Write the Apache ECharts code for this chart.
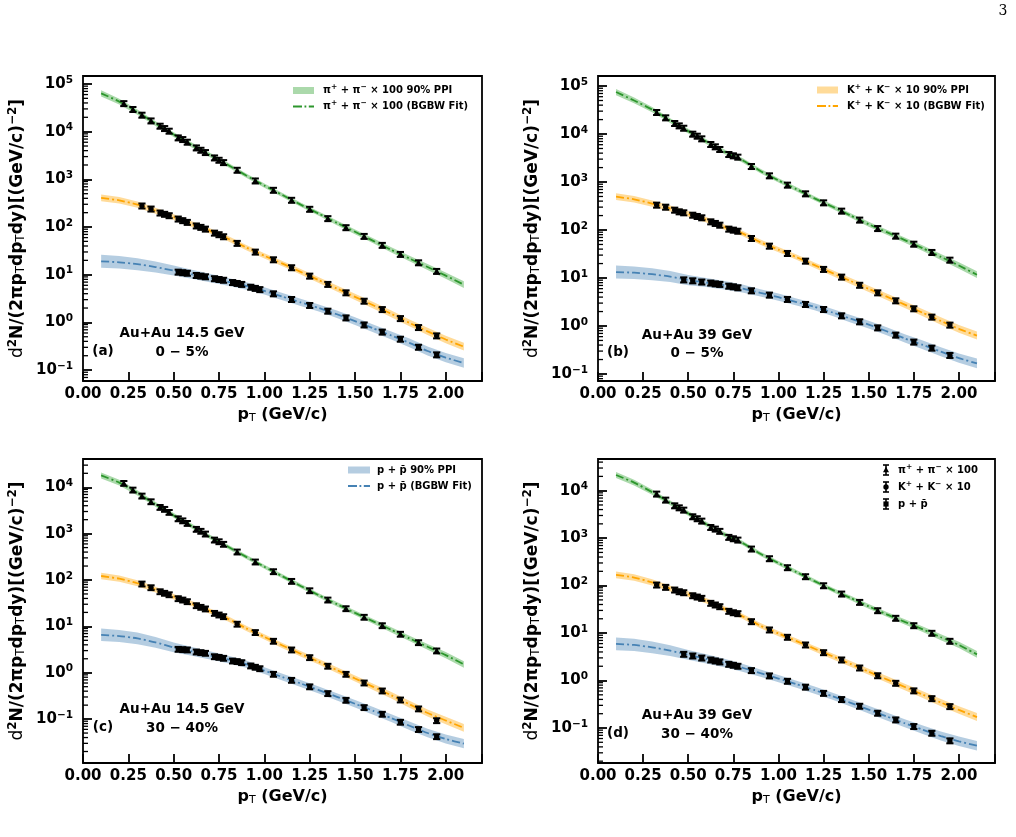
<!DOCTYPE html>
<html>
<head>
<meta charset="utf-8">
<script src="https://cdn.jsdelivr.net/npm/echarts@6/dist/echarts.min.js"></script>
<style>
html, body { margin: 0; padding: 0; background: #fff; }
#chart { width: 1016px; height: 837px; }
</style>
</head>
<body>
<div id="chart"></div>
<script>
// pT grid of the BGBW fit curves and the 90% PPI bands
const fitPt = [0.1, 0.2, 0.3, 0.4, 0.5, 0.6, 0.7, 0.8, 0.9, 1.0, 1.1, 1.2, 1.3, 1.4, 1.5, 1.6, 1.7, 1.8, 1.9, 2.0, 2.1];

// pT of the measured points
const ptPi14 = [0.225, 0.275, 0.325, 0.375, 0.425, 0.45, 0.475, 0.525, 0.55, 0.575, 0.625, 0.65, 0.675, 0.725, 0.75, 0.775, 0.85, 0.95, 1.05, 1.15, 1.25, 1.35, 1.45, 1.55, 1.65, 1.75, 1.85, 1.95];
const ptKa = [0.325, 0.375, 0.425, 0.45, 0.475, 0.525, 0.55, 0.575, 0.625, 0.65, 0.675, 0.725, 0.75, 0.775, 0.85, 0.95, 1.05, 1.15, 1.25, 1.35, 1.45, 1.55, 1.65, 1.75, 1.85, 1.95];
const ptP14 = [0.525, 0.55, 0.575, 0.625, 0.65, 0.675, 0.725, 0.75, 0.775, 0.825, 0.85, 0.875, 0.925, 0.95, 0.975, 1.05, 1.15, 1.25, 1.35, 1.45, 1.55, 1.65, 1.75, 1.85, 1.95];
const ptP39 = [0.475, 0.525, 0.575, 0.625, 0.65, 0.675, 0.725, 0.75, 0.775, 0.85, 0.95, 1.05, 1.15, 1.25, 1.35, 1.45, 1.55, 1.65, 1.75, 1.85, 1.95];

// fit curves, panel (a) 14.5 GeV 0-5%
const fitPiA = [63700, 42700, 25700, 14800, 8710, 5250, 3240, 2000, 1200, 741, 468, 295, 191, 122, 79.4, 51.3, 33.1, 21.9, 14.5, 9.55, 6.17];
const fitKaA = [408, 363, 295, 219, 161, 115, 83.2, 56.9, 37.2, 24.9, 17.1, 11.5, 7.69, 5.13, 3.43, 2.29, 1.51, 0.977, 0.646, 0.437, 0.31];
const fitPrA = [19.1, 18.2, 16.6, 14.5, 12.2, 10.2, 8.51, 7.08, 5.82, 4.57, 3.47, 2.63, 2.0, 1.48, 1.06, 0.75, 0.531, 0.372, 0.251, 0.182, 0.141];
// panel (b) 39 GeV 0-5%
const fitPiB = [75000, 50100, 32400, 19100, 11500, 6980, 4270, 2850, 1700, 1080, 708, 457, 305, 200, 132, 90.2, 61.7, 41.7, 27.5, 18.2, 11.7];
const fitKaB = [494, 437, 355, 282, 216, 164, 115, 85.1, 55.7, 38.9, 27.2, 18.5, 12.6, 8.67, 5.94, 4.08, 2.79, 1.88, 1.27, 0.871, 0.631];
const fitPrB = [13.3, 12.9, 12.0, 10.7, 9.02, 8.05, 7.08, 6.03, 4.9, 3.98, 3.16, 2.51, 1.91, 1.42, 1.07, 0.776, 0.55, 0.403, 0.292, 0.214, 0.166];
// panel (c) 14.5 GeV 30-40%
const fitPiC = [18000, 12600, 7550, 4270, 2470, 1450, 851, 521, 315, 193, 120, 74.5, 46.8, 30.1, 19.5, 12.8, 8.41, 5.5, 3.63, 2.4, 1.51];
const fitKaC = [122, 107, 85.1, 62.1, 43.7, 30.9, 21.4, 14.5, 9.06, 5.94, 3.86, 2.57, 1.72, 1.14, 0.752, 0.497, 0.326, 0.209, 0.135, 0.0933, 0.0646];
const fitPrC = [6.56, 6.17, 5.5, 4.52, 3.51, 2.88, 2.37, 1.93, 1.53, 1.11, 0.804, 0.587, 0.422, 0.302, 0.214, 0.151, 0.105, 0.0718, 0.0501, 0.0372, 0.0295];
// panel (d) 39 GeV 30-40%
const fitPiD = [21400, 14800, 9330, 5550, 3310, 1970, 1200, 794, 468, 298, 192, 124, 81.3, 54.7, 36.5, 24.8, 17.2, 12.0, 8.18, 5.62, 3.55];
const fitKaD = [168, 148, 117, 86.5, 66.1, 47.9, 32.4, 22.6, 14.3, 9.77, 6.79, 4.68, 3.24, 2.24, 1.53, 1.06, 0.731, 0.504, 0.344, 0.24, 0.17];
const fitPrD = [5.93, 5.62, 5.01, 4.27, 3.47, 2.86, 2.34, 1.86, 1.43, 1.1, 0.839, 0.628, 0.465, 0.339, 0.244, 0.175, 0.126, 0.0916, 0.0676, 0.0525, 0.0423];

// half width of the 90% PPI band around the fit, in decades
const bandPi = [0.065, 0.06, 0.055, 0.05, 0.05, 0.05, 0.048, 0.046, 0.045, 0.045, 0.045, 0.045, 0.046, 0.048, 0.05, 0.052, 0.055, 0.058, 0.062, 0.066, 0.07];
const bandKa = [0.07, 0.068, 0.065, 0.062, 0.06, 0.058, 0.056, 0.055, 0.055, 0.055, 0.056, 0.058, 0.06, 0.062, 0.065, 0.068, 0.07, 0.073, 0.076, 0.08, 0.083];
const bandPr = [0.135, 0.13, 0.125, 0.115, 0.105, 0.095, 0.088, 0.082, 0.078, 0.075, 0.074, 0.074, 0.075, 0.077, 0.08, 0.083, 0.086, 0.09, 0.094, 0.098, 0.1];

// measured spectra
const dataPiA = [39000, 29400, 22300, 16900, 13100, 11700, 10300, 7450, 6880, 6050, 4590, 4100, 3670, 2830, 2530, 2260, 1560, 931, 593, 366, 237, 151, 97.5, 64, 41.5, 26.8, 17.9, 11.8];
const dataKaA = [278, 240, 198, 186, 174, 148, 137, 126, 106, 99, 91, 75, 69.5, 63, 45.7, 30, 20.7, 14.1, 9.4, 6.3, 4.2, 2.8, 1.87, 1.21, 0.785, 0.525];
const dataPrA = [11.4, 11.1, 10.8, 9.7, 9.4, 9.1, 8.3, 8.0, 7.7, 6.9, 6.6, 6.3, 5.5, 5.2, 4.9, 4.0, 3.04, 2.28, 1.73, 1.25, 0.89, 0.63, 0.447, 0.303, 0.21];
const dataPiB = [28300, 21900, 16700, 14900, 13300, 10000, 9080, 8000, 6100, 5450, 4800, 3770, 3540, 3320, 2120, 1355, 867, 571, 371, 249, 162, 108, 75, 51, 34.3, 23.7];
const dataKaB = [332, 301, 261, 241, 230, 205, 193, 181, 149, 138, 127, 105, 100, 95, 67, 46.4, 32.7, 22.6, 15.2, 10.5, 7.1, 4.94, 3.37, 2.3, 1.54, 1.05];
const dataPrB = [9.2, 8.8, 8.3, 7.9, 7.6, 7.4, 6.8, 6.6, 6.3, 5.45, 4.43, 3.6, 2.83, 2.22, 1.64, 1.23, 0.92, 0.65, 0.465, 0.348, 0.245];
const dataPiC = [12200, 8750, 6500, 4900, 3700, 3360, 2890, 2100, 1900, 1670, 1245, 1130, 986, 731, 673, 592, 404, 246, 152, 94, 59, 37.2, 24.2, 15.8, 10.4, 6.8, 4.48, 2.97];
const dataKaC = [82.4, 68.6, 56.2, 52, 48.4, 39.8, 37.2, 34.3, 28.1, 25.9, 23.9, 19.2, 17.7, 16.3, 11.2, 7.4, 4.8, 3.12, 2.13, 1.39, 0.93, 0.605, 0.407, 0.26, 0.167, 0.093];
const dataPrC = [3.22, 3.17, 3.12, 2.82, 2.73, 2.64, 2.23, 2.16, 2.06, 1.8, 1.75, 1.66, 1.41, 1.32, 1.23, 0.93, 0.69, 0.5, 0.357, 0.256, 0.178, 0.128, 0.086, 0.06, 0.042];
const dataPiD = [8530, 6370, 4830, 4380, 3920, 2840, 2580, 2300, 1690, 1560, 1400, 1045, 977, 916, 593, 371, 240, 155, 100, 66.8, 44.6, 29.8, 20.6, 14.4, 9.95, 6.75];
const dataKaD = [103.5, 92.5, 81.2, 74.8, 71.3, 61.6, 57.8, 54.3, 42.6, 39.3, 36.2, 28.9, 27, 25.8, 17.5, 11.7, 8.2, 5.65, 3.89, 2.73, 1.85, 1.27, 0.88, 0.61, 0.418, 0.284];
const dataPrD = [3.59, 3.31, 3.0, 2.73, 2.6, 2.48, 2.21, 2.11, 2.01, 1.63, 1.26, 0.97, 0.73, 0.54, 0.4, 0.289, 0.206, 0.149, 0.108, 0.078, 0.054];

// relative error of the points
const relErr = 0.12;

// axis ranges
const xMax = 2.2;
const yMin = [0.059, 0.0714, 0.0113, 0.0183];
const yMax = [147000, 162000, 40700, 46500];

const FONT = "'DejaVu Sans', sans-serif";

const species = [
  { line: '#2c962c', band: 'rgba(44,160,44,0.4)', width: bandPi, marker: 'triangle' },
  { line: '#ffa500', band: 'rgba(255,165,0,0.4)', width: bandKa, marker: 'circle' },
  { line: '#4682b4', band: 'rgba(70,130,180,0.4)', width: bandPr, marker: 'square' }
];

const panels = [
  { grid: { left: 83, top: 76, width: 399, height: 305 },
    fits: [fitPiA, fitKaA, fitPrA], pts: [[ptPi14, dataPiA], [ptKa, dataKaA], [ptP14, dataPrA]] },
  { grid: { left: 598, top: 76, width: 397, height: 305 },
    fits: [fitPiB, fitKaB, fitPrB], pts: [[ptKa, dataPiB], [ptKa, dataKaB], [ptP39, dataPrB]] },
  { grid: { left: 83, top: 459, width: 399, height: 304 },
    fits: [fitPiC, fitKaC, fitPrC], pts: [[ptPi14, dataPiC], [ptKa, dataKaC], [ptP14, dataPrC]] },
  { grid: { left: 598, top: 459, width: 397, height: 304 },
    fits: [fitPiD, fitKaD, fitPrD], pts: [[ptKa, dataPiD], [ptKa, dataKaD], [ptP39, dataPrD]] }
];

function markerShape(type, cx, cy) {
  if (type === 'triangle') {
    return { type: 'polygon', shape: { points: [[cx, cy - 3.2], [cx - 3, cy + 2.3], [cx + 3, cy + 2.3]] }, style: { fill: '#000' } };
  }
  if (type === 'circle') {
    return { type: 'circle', shape: { cx: cx, cy: cy, r: 2.7 }, style: { fill: '#000' } };
  }
  return { type: 'rect', shape: { x: cx - 2.6, y: cy - 2.6, width: 5.2, height: 5.2 }, style: { fill: '#000' } };
}

function errorBarItem(type) {
  return function (params, api) {
    const x = api.value(0);
    const y = api.value(1);
    const c = api.coord([x, y]);
    const lo = api.coord([x, y * (1 - relErr)]);
    const hi = api.coord([x, y * (1 + relErr)]);
    const st = { stroke: '#000', lineWidth: 2 };
    return {
      type: 'group',
      children: [
        { type: 'line', shape: { x1: c[0], y1: lo[1], x2: c[0], y2: hi[1] }, style: st },
        { type: 'line', shape: { x1: c[0] - 3.6, y1: lo[1], x2: c[0] + 3.6, y2: lo[1] }, style: st },
        { type: 'line', shape: { x1: c[0] - 3.6, y1: hi[1], x2: c[0] + 3.6, y2: hi[1] }, style: st },
        markerShape(type, c[0], c[1])
      ]
    };
  };
}

// the whole band is drawn as one polygon from the first data item
function bandItem(rows, color) {
  return function (params, api) {
    if (params.dataIndex !== 0) return null;
    const top = rows.map(r => api.coord([r[0], r[2]]));
    const bot = rows.map(r => api.coord([r[0], r[1]])).reverse();
    return { type: 'polygon', shape: { points: top.concat(bot) }, style: { fill: color } };
  };
}

function powLabel(v) {
  const l = Math.log10(v);
  const e = Math.round(l);
  if (Math.abs(l - e) > 1e-6) return '';
  return '{b|10}{s|' + (e < 0 ? '\u2212' + (-e) : e) + '}';
}

const grids = [], xAxes = [], yAxes = [], series = [];

panels.forEach((p, i) => {
  grids.push(Object.assign({ show: true, borderColor: '#000', borderWidth: 1.8, backgroundColor: 'transparent' }, p.grid));

  xAxes.push({
    type: 'value', gridIndex: i, min: 0, max: xMax, interval: 0.25,
    axisLine: { show: false },
    splitLine: { show: false },
    axisTick: { inside: true, length: 9, lineStyle: { color: '#000', width: 1.8 } },
    axisLabel: {
      margin: 6, color: '#000', fontFamily: FONT, fontWeight: 'bold', fontSize: 15,
      showMinLabel: true, showMaxLabel: true,
      formatter: v => (v > 2.05 ? '' : v.toFixed(2))
    },
    name: '{b|p}{u|T}{b| (GeV/c)}',
    nameLocation: 'middle', nameGap: 25,
    nameTextStyle: {
      rich: {
        b: { fontFamily: FONT, fontWeight: 'bold', fontSize: 16, lineHeight: 18, color: '#000' },
        u: { fontFamily: FONT, fontSize: 11, lineHeight: 11, padding: [7, 0, 0, 0], color: '#000' }
      }
    }
  });

  yAxes.push({
    type: 'log', logBase: 10, gridIndex: i, min: yMin[i], max: yMax[i],
    axisLine: { show: false },
    splitLine: { show: false },
    axisTick: { inside: true, length: 9, lineStyle: { color: '#000', width: 1.8 } },
    axisLabel: {
      margin: 10, color: '#000', showMinLabel: true, showMaxLabel: true,
      formatter: powLabel,
      rich: {
        b: { fontFamily: FONT, fontWeight: 'bold', fontSize: 15, lineHeight: 16, color: '#000' },
        s: { fontFamily: FONT, fontWeight: 'bold', fontSize: 10.5, lineHeight: 11, padding: [0, 0, 8, 0], color: '#000' }
      }
    },
    name: '{d|d}{s|2}{b|N/(2\u03c0p}{u|T}{b|dp}{u|T}{b|dy)[(GeV/c)}{s|\u22122}{b|]}',
    nameLocation: 'middle', nameRotate: 90, nameGap: 56,
    nameTextStyle: {
      rich: {
        d: { fontFamily: FONT, fontSize: 17, lineHeight: 19, color: '#000' },
        b: { fontFamily: FONT, fontWeight: 'bold', fontSize: 17, lineHeight: 19, color: '#000' },
        s: { fontFamily: FONT, fontWeight: 'bold', fontSize: 12, lineHeight: 12, padding: [0, 0, 9, 0], color: '#000' },
        u: { fontFamily: FONT, fontSize: 12, lineHeight: 12, padding: [7, 0, 0, 0], color: '#000' }
      }
    }
  });

  // minor log ticks (2..9 x 10^k) on the left spine
  const minors = [];
  for (let k = Math.floor(Math.log10(yMin[i])); k <= Math.ceil(Math.log10(yMax[i])); k++) {
    for (let m = 2; m <= 9; m++) {
      const v = m * Math.pow(10, k);
      if (v > yMin[i] && v < yMax[i]) minors.push([0, v]);
    }
  }
  series.push({
    type: 'custom', xAxisIndex: i, yAxisIndex: i, silent: true, z: 5,
    data: minors,
    renderItem: (params, api) => {
      const c = api.coord([0, api.value(1)]);
      return { type: 'line', shape: { x1: c[0], y1: c[1], x2: c[0] + 5, y2: c[1] }, style: { stroke: '#000', lineWidth: 1.3 } };
    }
  });

  species.forEach((sp, j) => {
    const fit = p.fits[j];
    const rows = fitPt.map((x, k) => [x, fit[k] / Math.pow(10, sp.width[k]), fit[k] * Math.pow(10, sp.width[k])]);
    series.push({
      type: 'custom', xAxisIndex: i, yAxisIndex: i, silent: true, z: 1,
      renderItem: bandItem(rows, sp.band),
      data: rows
    });
  });

  species.forEach((sp, j) => {
    const fit = p.fits[j];
    series.push({
      type: 'line', xAxisIndex: i, yAxisIndex: i, silent: true, z: 3,
      smooth: 0.2, showSymbol: false, symbol: 'none',
      lineStyle: { color: sp.line, width: 1.8, type: [8, 3, 2, 3] },
      data: fitPt.map((x, k) => [x, fit[k]])
    });
  });

  species.forEach((sp, j) => {
    const [pt, vals] = p.pts[j];
    series.push({
      type: 'custom', xAxisIndex: i, yAxisIndex: i, silent: true, z: 4,
      renderItem: errorBarItem(sp.marker),
      data: pt.map((x, k) => [x, vals[k]])
    });
  });
});

// legends and panel captions
const legRich = {
  b: { fontFamily: FONT, fontWeight: 'bold', fontSize: 10, lineHeight: 12, fill: '#000' },
  s: { fontFamily: FONT, fontWeight: 'bold', fontSize: 7.5, lineHeight: 8, padding: [0, 0, 6, 0], fill: '#000' }
};
function legText(x, y, txt) {
  return { type: 'text', z: 10, style: { x: x, y: y, text: txt, rich: legRich, align: 'left', verticalAlign: 'middle' } };
}
function bandSwatch(x, y, w, color) {
  return { type: 'rect', z: 10, shape: { x: x, y: y - 3.5, width: w, height: 7 }, style: { fill: color } };
}
function lineSwatch(x, y, w, color) {
  return { type: 'line', z: 10, shape: { x1: x, y1: y, x2: x + w, y2: y }, style: { stroke: color, lineWidth: 1.8, lineDash: [9, 2.5, 1.8, 2.5] } };
}
function errSwatch(x, y, type) {
  const st = { stroke: '#000', lineWidth: 1.6 };
  return { type: 'group', z: 10, children: [
    { type: 'line', shape: { x1: x, y1: y - 5, x2: x, y2: y + 5 }, style: st },
    { type: 'line', shape: { x1: x - 3, y1: y - 5, x2: x + 3, y2: y - 5 }, style: st },
    { type: 'line', shape: { x1: x - 3, y1: y + 5, x2: x + 3, y2: y + 5 }, style: st },
    markerShape(type, x, y)
  ] };
}
function caption(x, y, txt) {
  return { type: 'text', z: 10, style: { x: x, y: y, text: txt, fontFamily: FONT, fontWeight: 'bold', fontSize: 13.5, fill: '#000', align: 'center', verticalAlign: 'middle' } };
}

const PI = '{b|\u03c0}{s|+}{b| + \u03c0}{s|\u2212}';
const KA = '{b|K}{s|+}{b| + K}{s|\u2212}';
const PR = '{b|p + p\u0304}';

const graphics = [
  bandSwatch(293, 90.5, 21, species[0].band), legText(323, 90.5, PI + '{b| \u00d7 100 90% PPI}'),
  lineSwatch(293, 106.5, 21, species[0].line), legText(323, 106.5, PI + '{b| \u00d7 100 (BGBW Fit)}'),
  bandSwatch(817, 90, 21, species[1].band), legText(847, 90, KA + '{b| \u00d7 10 90% PPI}'),
  lineSwatch(817, 106, 21, species[1].line), legText(847, 106, KA + '{b| \u00d7 10 (BGBW Fit)}'),
  bandSwatch(348, 470, 22, species[2].band), legText(377, 470, PR + '{b| 90% PPI}'),
  lineSwatch(348, 486, 22, species[2].line), legText(377, 486, PR + '{b| (BGBW Fit)}'),
  errSwatch(886, 470, 'triangle'), legText(898, 470, PI + '{b| \u00d7 100}'),
  errSwatch(886, 487, 'circle'), legText(898, 487, KA + '{b| \u00d7 10}'),
  errSwatch(886, 504, 'square'), legText(898, 504, PR),
  caption(182, 333, 'Au+Au 14.5 GeV'), caption(182, 352, '0 \u2212 5%'), caption(103, 351, '(a)'),
  caption(697, 335, 'Au+Au 39 GeV'), caption(697, 353, '0 \u2212 5%'), caption(618, 352, '(b)'),
  caption(182, 709, 'Au+Au 14.5 GeV'), caption(182, 728, '30 \u2212 40%'), caption(103, 727, '(c)'),
  caption(697, 715, 'Au+Au 39 GeV'), caption(697, 734, '30 \u2212 40%'), caption(618, 733, '(d)'),
  { type: 'text', style: { x: 1003, y: 11, text: '3', fontFamily: "'DejaVu Serif', serif", fontSize: 14, fill: '#000', align: 'center', verticalAlign: 'middle' } }
];

const chart = echarts.init(document.getElementById('chart'));
chart.setOption({
  animation: false,
  backgroundColor: '#fff',
  grid: grids,
  xAxis: xAxes,
  yAxis: yAxes,
  series: series,
  graphic: graphics
});
</script>
</body>
</html>
